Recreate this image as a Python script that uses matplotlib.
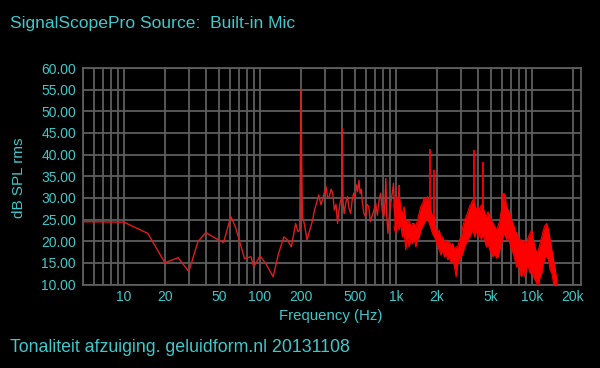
import numpy as np
import matplotlib.pyplot as plt
from matplotlib.ticker import LogLocator, NullFormatter

plt.rcParams['font.family'] = ['Liberation Sans', 'DejaVu Sans']

# thin trace, low end of the spectrum (Hz, dB)
line_freq = [5, 10, 15, 20, 25, 30, 35, 40, 47, 54, 61, 66, 77, 86, 90, 100, 110, 125,
             137, 150, 159, 170, 183, 190, 196, 200, 205, 212, 222, 232, 244, 250, 264,
             270, 281, 293, 306, 314, 323, 333, 343, 352, 362, 372, 380, 388, 398, 403,
             408, 416, 428, 440, 452, 464, 476, 489, 500, 512, 523, 534, 545, 556, 564,
             580, 596, 612, 630, 648, 665, 686, 709, 730, 751, 772, 793, 815, 830, 842,
             855, 872, 893, 915, 938, 959, 975, 1000]
line_db = [24.5, 24.4, 21.8, 15.0, 16.2, 13.0, 19.9, 22.0, 20.7, 19.7, 25.7, 23.3, 16.0,
           16.4, 14.1, 16.6, 14.9, 11.8, 17.2, 21.0, 20.3, 18.7, 24.1, 22.2, 22.5, 55.1,
           25.7, 24.0, 20.3, 22.5, 24.9, 26.8, 29.5, 30.7, 28.4, 30.5, 32.6, 30.0, 30.3,
           32.0, 31.1, 27.2, 28.5, 24.1, 27.0, 28.8, 30.0, 46.1, 29.0, 26.4, 29.0, 30.3,
           27.5, 26.4, 29.5, 31.1, 30.0, 33.0, 31.5, 34.1, 31.0, 32.0, 29.5, 26.5, 25.7,
           28.5, 28.0, 24.5, 25.7, 27.0, 28.8, 26.0, 29.5, 31.1, 27.0, 25.7, 29.0, 34.5,
           26.0, 21.8, 26.0, 28.8, 31.0, 33.4, 27.0, 23.3]

# dense noisy band above 1 kHz: lower / upper envelope
band_freq = [966, 994, 1023, 1052, 1083, 1114, 1146, 1179, 1213, 1248, 1284, 1321, 1359,
             1398, 1439, 1480, 1523, 1567, 1612, 1659, 1707, 1756, 1806, 1858, 1912, 1967,
             2024, 2082, 2142, 2204, 2268, 2333, 2400, 2470, 2541, 2614, 2690, 2767, 2847,
             2929, 3013, 3100, 3189, 3281, 3376, 3473, 3573, 3676, 3782, 3891, 4004, 4119,
             4238, 4360, 4486, 4615, 4748, 4885, 5026, 5171, 5320, 5473, 5631, 5794, 5961,
             6133, 6310, 6491, 6679, 6871, 7069, 7273, 7483, 7699, 7921, 8150, 8385, 8627,
             8875, 9131, 9394, 9665, 9943, 10230, 10520, 10830, 11140, 11460, 11790, 12130,
             12480, 12840, 13210, 13590, 13990, 14390, 14810, 15230]
band_hi = [28.0, 30.3, 28.7, 31.8, 27.2, 26.4, 28.0, 24.9, 24.1, 24.9, 23.4, 24.1, 24.1,
           23.4, 24.9, 26.4, 28.0, 28.7, 29.9, 29.5, 30.3, 28.4, 27.2, 25.7, 24.9, 22.6,
           21.8, 22.6, 20.3, 21.0, 19.5, 20.3, 19.5, 19.9, 18.7, 19.5, 18.0, 18.7, 18.7,
           20.3, 21.0, 23.4, 24.9, 25.7, 26.8, 28.0, 28.7, 29.5, 28.7, 27.2, 28.0, 27.2,
           28.4, 28.0, 26.4, 25.7, 26.8, 25.7, 24.9, 24.1, 23.4, 22.6, 23.4, 24.9, 27.2,
           28.5, 31.0, 28.0, 27.2, 26.4, 24.9, 24.1, 22.6, 21.8, 21.0, 20.3, 20.3, 19.5,
           20.3, 19.5, 21.0, 21.8, 22.6, 20.3, 18.7, 17.2, 18.0, 19.5, 21.0, 22.6, 23.7,
           24.1, 22.6, 20.3, 18.0, 15.7, 13.4, 11.1]
band_lo = [23.4, 21.8, 24.9, 22.6, 24.1, 21.0, 22.6, 18.0, 21.0, 18.7, 20.3, 19.5, 21.0,
           18.7, 20.3, 21.0, 22.6, 23.4, 24.1, 24.9, 25.3, 24.1, 23.0, 21.8, 21.0, 20.3,
           18.7, 18.0, 16.8, 18.0, 16.4, 17.2, 15.7, 16.4, 14.9, 15.7, 14.1, 11.8, 14.9,
           15.7, 16.4, 17.2, 18.7, 19.5, 20.3, 21.0, 21.8, 22.6, 21.0, 22.6, 21.0, 21.8,
           20.3, 21.8, 20.3, 18.7, 19.5, 18.0, 17.2, 16.4, 17.2, 16.1, 16.4, 18.0, 19.5,
           21.0, 21.8, 20.3, 21.0, 19.5, 18.0, 17.2, 15.7, 14.1, 14.9, 12.6, 11.8, 13.4,
           11.8, 14.1, 14.1, 12.6, 13.4, 11.8, 11.1, 10.3, 9.5, 11.8, 12.6, 14.9, 16.4,
           16.4, 15.7, 13.4, 12.6, 10.3, 8.7, 8.0]

# narrow tonal peaks sticking out of the band
spike_freq = [1052, 1780, 1900, 3740, 4360, 6150]
spike_db = [33.0, 41.4, 36.4, 41.1, 38.4, 31.1]
spike_base = [27.0, 27.0, 24.0, 25.0, 24.0, 24.0]

tick_freq = [10, 20, 50, 100, 200, 500, 1000, 2000, 5000, 10000, 20000]
tick_text = ['10', '20', '50', '100', '200', '500', '1k', '2k', '5k', '10k', '20k']
y_ticks = [10, 15, 20, 25, 30, 35, 40, 45, 50, 55, 60]

cyan = '#3fc9cc'
grid_c = '#5e5e5e'

fig = plt.figure(figsize=(6, 3.68), dpi=100, facecolor='black')
ax = fig.add_axes([0.1383, 0.2269, 0.83, 0.5883], facecolor='black')

ax.plot(line_freq, line_db, color='#e01c1c', lw=1.0, zorder=3)
ax.fill_between(band_freq, band_lo, band_hi, color='#ff0000', lw=0, zorder=3)
ax.plot(band_freq, band_hi, color='#ff0000', lw=0.8, zorder=3)
ax.plot(band_freq, band_lo, color='#ff0000', lw=0.8, zorder=3)
ax.vlines(spike_freq, spike_base, spike_db, color='#ff0000', lw=1.3, zorder=3)

ax.set_xscale('log')
ax.set_xlim(5, 22900)
ax.set_ylim(10, 60)
ax.set_xticks(tick_freq, tick_text)
ax.xaxis.set_minor_locator(LogLocator(base=10, subs=np.arange(2, 10)))
ax.xaxis.set_minor_formatter(NullFormatter())
ax.set_yticks(y_ticks, ['%.2f' % v for v in y_ticks])

ax.grid(which='both', color=grid_c, lw=1.3, zorder=1)
ax.set_axisbelow(True)
for s in ax.spines.values():
    s.set_color(grid_c)
    s.set_linewidth(1.3)
ax.tick_params(which='both', length=0, colors=cyan, labelsize=10)
ax.tick_params(axis='y', pad=5)
ax.tick_params(axis='x', pad=4)

fig.text(0.0167, 0.924, 'SignalScopePro Source:  Built-in Mic', color=cyan, fontsize=12.6, va='baseline')
fig.text(0.0167, 0.044, 'Tonaliteit afzuiging. geluidform.nl 20131108', color=cyan, fontsize=12.8, va='baseline')
fig.text(0.552, 0.13, 'Frequency (Hz)', color=cyan, fontsize=10.8, ha='center', va='baseline')
fig.text(0.031, 0.516, 'dB SPL rms', color=cyan, fontsize=11, rotation=90, ha='center', va='center')

fig.savefig('out.png', dpi=100, facecolor='black')
